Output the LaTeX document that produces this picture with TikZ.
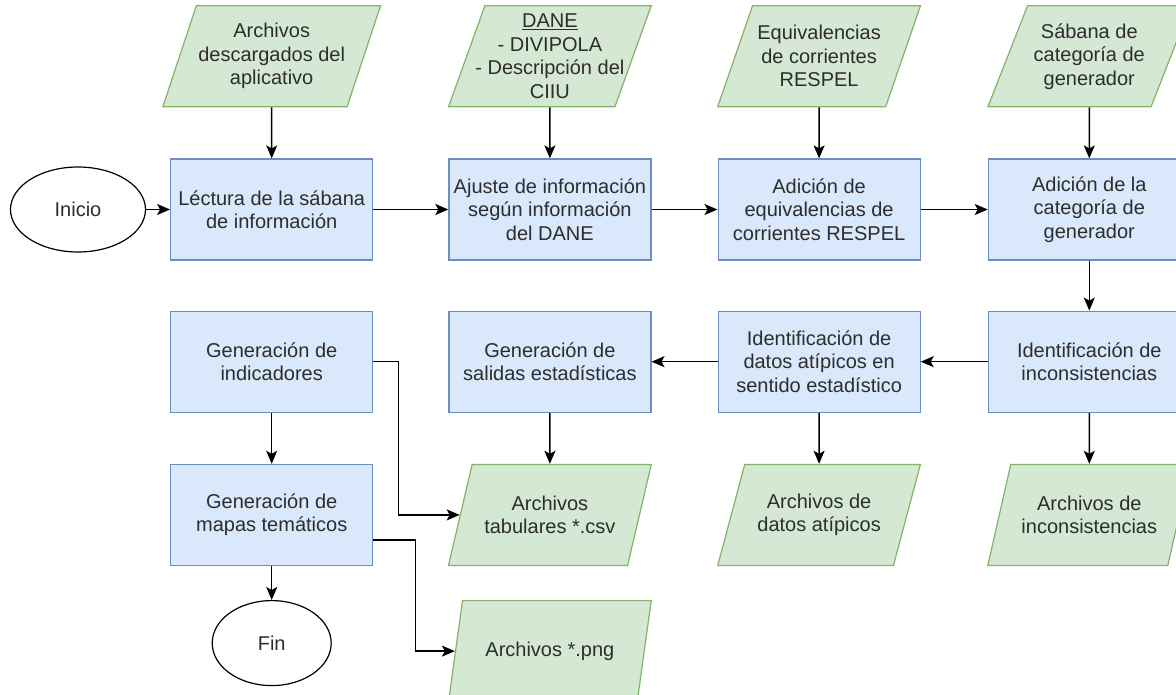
\documentclass[tikz,border=0pt]{standalone}
\usepackage{fontspec}
\setmainfont{Liberation Sans}
\usetikzlibrary{arrows.meta,positioning,shapes.geometric}
\definecolor{procBlue}{RGB}{218,232,252}
\definecolor{procBlueLine}{RGB}{108,142,191}
\definecolor{dataGreen}{RGB}{213,232,212}
\definecolor{dataGreenLine}{RGB}{130,179,102}
\definecolor{txtGray}{RGB}{45,45,45}

\begin{document}
\begin{tikzpicture}[
  font=\fontsize{20}{23.5}\selectfont,
  b/.style={draw=procBlueLine,fill=procBlue,text=txtGray,align=center,minimum width=202pt,minimum height=101pt,inner sep=2pt,line width=1.2pt},
  io/.style={trapezium,trapezium left angle=69,trapezium right angle=111,trapezium stretches=true,draw=dataGreenLine,fill=dataGreen,text=txtGray,align=center,minimum width=203pt,minimum height=101pt,inner xsep=-15pt,inner ysep=1pt,line width=1.2pt},
  term/.style={ellipse,draw,text=txtGray,align=center,minimum height=85pt,line width=1.2pt},
  arrow/.style={-{Stealth[length=13pt,width=11pt,inset=3pt]},line width=1.5pt}
]
  \useasboundingbox (0pt,0pt) rectangle (1176pt,-695pt);
  \clip (0pt,0pt) rectangle (1176pt,-695pt);

  % fila superior
  \node[term,minimum width=135pt] (inicio) at (78pt,-209.5pt) {Inicio};
  \node[b,right=24pt of inicio] (lectura) {Léctura de la sábana\\de información};
  \node[b,right=75pt of lectura] (ajuste) {Ajuste de información\\según información\\del DANE};
  \node[b,right=66pt of ajuste] (equiv) {Adición de\\equivalencias de\\corrientes RESPEL};
  \node[b,right=67pt of equiv] (categ) {Adición de la\\categoría de\\generador};

  \node[io,minimum width=218pt,above=51pt of lectura] (descargas) {Archivos\\descargados del\\aplicativo};
  \node[io,above=51pt of ajuste] (dane) {\underline{DANE}\\- DIVIPOLA\\- Descripción del\\CIIU};
  \node[io,above=51pt of equiv] (corrientes) {Equivalencias\\de corrientes\\RESPEL};
  \node[io,above=51pt of categ] (sabana) {Sábana de\\categoría de\\generador};

  % fila central
  \node[b,below=50pt of categ] (incons) {Identificación de\\inconsistencias};
  \node[b,left=67pt of incons] (atipicos) {Identificación de\\datos atípicos en\\sentido estadístico};
  \node[b,left=66pt of atipicos] (salidas) {Generación de\\salidas estadísticas};
  \node[b,left=75pt of salidas] (indic) {Generación de\\indicadores};

  % salidas
  \node[io,below=51pt of incons] (arcIncons) {Archivos de\\inconsistencias};
  \node[io,below=51pt of atipicos] (arcAtip) {Archivos de\\datos atípicos};
  \node[io,below=51pt of salidas] (arcCsv) {Archivos\\tabulares *.csv};
  \node[io,below=34pt of arcCsv] (arcPng) {Archivos *.png};
  \node[b,below=51pt of indic] (mapas) {Generación de\\mapas temáticos};
  \node[term,minimum width=119pt,below=34pt of mapas] (fin) {Fin};

  \draw[arrow] (inicio) -- (lectura);
  \draw[arrow] (lectura) -- (ajuste);
  \draw[arrow] (ajuste) -- (equiv);
  \draw[arrow] (equiv) -- (categ);
  \draw[arrow] (descargas) -- (lectura);
  \draw[arrow] (dane) -- (ajuste);
  \draw[arrow] (corrientes) -- (equiv);
  \draw[arrow] (sabana) -- (categ);
  \draw[arrow] (categ) -- (incons);
  \draw[arrow] (incons) -- (atipicos);
  \draw[arrow] (atipicos) -- (salidas);
  \draw[arrow] (incons) -- (arcIncons);
  \draw[arrow] (atipicos) -- (arcAtip);
  \draw[arrow] (salidas) -- (arcCsv);
  \draw[arrow] (indic) -- (mapas);
  \draw[arrow] (mapas) -- (fin);
  \draw[arrow] (indic.east) -- ++(25pt,0) |- (arcCsv.west);
  \draw[arrow] ([yshift=-25pt]mapas.east) -- ++(42pt,0) |- (arcPng.west);
\end{tikzpicture}
\end{document}
